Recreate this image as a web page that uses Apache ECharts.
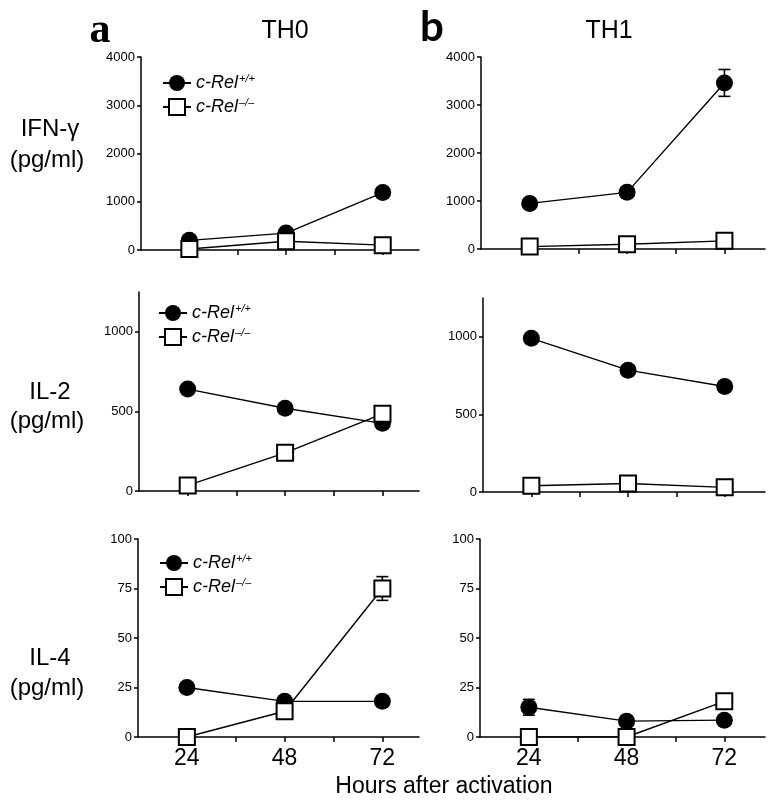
<!DOCTYPE html>
<html>
<head>
<meta charset="utf-8">
<script src="https://cdn.jsdelivr.net/npm/echarts@6/dist/echarts.min.js"></script>
<style>html,body{margin:0;padding:0;background:#fff}#c{width:784px;height:811px}</style>
</head>
<body>
<div id="c"></div>
<script>
// ---- data ----
const hours = [24, 48, 72];
const xTicks = [24, 36, 48, 60, 72];
const xTickLabels = [24, 48, 72];
const ifnTicks = [0, 1000, 2000, 3000, 4000];
const il2Ticks = [0, 500, 1000];
const il4Ticks = [0, 25, 50, 75, 100];

const th0IfnWt = [200, 350, 1190];
const th0IfnKo = [20, 180, 100];
const th1IfnWt = [950, 1180, 3460];
const th1IfnWtErr = [0, 0, 280];
const th1IfnKo = [50, 100, 170];

const th0Il2Wt = [640, 520, 425];
const th0Il2Ko = [35, 240, 485];
const th1Il2Wt = [990, 785, 680];
const th1Il2Ko = [40, 55, 30];

const th0Il4Wt = [25, 18, 18];
const th0Il4Ko = [0, 13, 75];
const th0Il4KoErr = [0, 0, 6];
const th1Il4Wt = [15, 8, 8.5];
const th1Il4WtErr = [4, 0, 0];
const th1Il4Ko = [0, 0, 18];

const WT = 'c-Rel+/+';
const KO = 'c-Rel\u2013/\u2013';

// ---- layout ----
const FONT = 'Liberation Sans, Arial, Helvetica, sans-serif';
const grids = [
  {left: 141, top: 57, width: 278, height: 193},
  {left: 481, top: 57, width: 284, height: 192},
  {left: 139, top: 292, width: 280, height: 199},
  {left: 483, top: 298, width: 282, height: 194},
  {left: 138, top: 539, width: 281, height: 198},
  {left: 480, top: 539, width: 285, height: 198}
];
const xMax = [81, 82, 81, 82, 81, 82];
const yCfg = [
  {max: 4000, ticks: ifnTicks},
  {max: 4000, ticks: ifnTicks},
  {max: 1250, ticks: il2Ticks},
  {max: 1250, ticks: il2Ticks},
  {max: 100, ticks: il4Ticks},
  {max: 100, ticks: il4Ticks}
];

const xAxis = grids.map((g, i) => ({
  type: 'value', gridIndex: i, min: 12, max: xMax[i],
  axisLine: {show: true, lineStyle: {color: '#000', width: 1.5}},
  axisTick: {show: true, customValues: xTicks, length: 5, lineStyle: {color: '#000', width: 1.5}},
  axisLabel: {show: i >= 4, customValues: xTickLabels, fontSize: 23, color: '#000', fontFamily: FONT, margin: 10,
    formatter: v => String(v)},
  splitLine: {show: false}
}));
const yAxis = grids.map((g, i) => ({
  type: 'value', gridIndex: i, min: 0, max: yCfg[i].max,
  axisLine: {show: true, lineStyle: {color: '#000', width: 1.5}},
  axisTick: {show: true, customValues: yCfg[i].ticks, length: 4, lineStyle: {color: '#000', width: 1.5}},
  axisLabel: {show: true, customValues: yCfg[i].ticks, fontSize: 13, color: '#000', fontFamily: FONT, margin: 6,
    formatter: v => String(v)},
  splitLine: {show: false}
}));

function pts(vals) { return hours.map((h, k) => [h, vals[k]]); }
function wtSeries(i, vals) {
  return {type: 'line', name: WT, xAxisIndex: i, yAxisIndex: i, data: pts(vals),
    symbol: 'circle', symbolSize: 17, z: 3,
    lineStyle: {color: '#000', width: 1.4}, itemStyle: {color: '#000', borderColor: '#000', borderWidth: 0},
    emphasis: {disabled: true}, animation: false};
}
function koSeries(i, vals) {
  return {type: 'line', name: KO, xAxisIndex: i, yAxisIndex: i, data: pts(vals),
    symbol: 'rect', symbolSize: 16, z: 4,
    lineStyle: {color: '#000', width: 1.4}, itemStyle: {color: '#fff', borderColor: '#000', borderWidth: 2},
    emphasis: {disabled: true}, animation: false};
}
function errSeries(i, vals, errs) {
  return {type: 'custom', xAxisIndex: i, yAxisIndex: i, z: 2, animation: false, silent: true,
    data: hours.map((h, k) => [h, vals[k], errs[k]]),
    encode: {x: 0, y: 1},
    renderItem: function (params, api) {
      const e = api.value(2);
      if (!e) return {type: 'group', children: []};
      const x = api.value(0), y = api.value(1);
      const hi = api.coord([x, y + e]);
      const lo = api.coord([x, y - e]);
      const w = 6;
      const st = {stroke: '#000', lineWidth: 1.6};
      return {type: 'group', children: [
        {type: 'line', shape: {x1: hi[0], y1: hi[1], x2: lo[0], y2: lo[1]}, style: st},
        {type: 'line', shape: {x1: hi[0] - w, y1: hi[1], x2: hi[0] + w, y2: hi[1]}, style: st},
        {type: 'line', shape: {x1: lo[0] - w, y1: lo[1], x2: lo[0] + w, y2: lo[1]}, style: st}
      ]};
    }};
}

const series = [
  errSeries(1, th1IfnWt, th1IfnWtErr),
  errSeries(4, th0Il4Ko, th0Il4KoErr),
  errSeries(5, th1Il4Wt, th1Il4WtErr),
  wtSeries(0, th0IfnWt), koSeries(0, th0IfnKo),
  wtSeries(1, th1IfnWt), koSeries(1, th1IfnKo),
  wtSeries(2, th0Il2Wt), koSeries(2, th0Il2Ko),
  wtSeries(3, th1Il2Wt), koSeries(3, th1Il2Ko),
  wtSeries(4, th0Il4Wt), koSeries(4, th0Il4Ko),
  wtSeries(5, th1Il4Wt), koSeries(5, th1Il4Ko)
];

function legendAt(left, top) {
  return {
    data: [WT, KO], orient: 'vertical', left: left, top: top,
    itemWidth: 28, itemHeight: 20, itemGap: 5, selectedMode: false, padding: 0,
    formatter: function (name) { return '{a|c-Rel}{b|' + name.slice(5) + '}'; },
    textStyle: {color: '#000', fontFamily: FONT,
      rich: {
        a: {fontStyle: 'italic', fontSize: 18, fontFamily: FONT, color: '#000', lineHeight: 20, verticalAlign: 'middle'},
        b: {fontStyle: 'italic', fontSize: 11, fontFamily: FONT, color: '#000', lineHeight: 20, verticalAlign: 'top', padding: [0, 0, 0, 1]}
      }}
  };
}

function txt(x, y, s, size, opts) {
  return Object.assign({type: 'text', x: x, y: y,
    style: Object.assign({text: s, fontSize: size, fontFamily: FONT, fill: '#000', align: 'center', verticalAlign: 'middle'}, opts || {})});
}

const graphic = [
  txt(100, 31, 'a', 42, {fontFamily: 'Liberation Serif, Times New Roman, serif', fontWeight: 'bold'}),
  txt(432, 27, 'b', 42, {fontFamily: 'Lato, Open Sans, sans-serif', fontWeight: 'bold'}),
  txt(285, 31, 'TH0', 25),
  txt(609, 31, 'TH1', 25),
  txt(50, 129, 'IFN-\u03b3', 24),
  txt(47, 160, '(pg/ml)', 24),
  txt(50, 392, 'IL-2', 24),
  txt(47, 421, '(pg/ml)', 24),
  txt(50, 658, 'IL-4', 24),
  txt(47, 688, '(pg/ml)', 24),
  txt(444, 787, 'Hours after activation', 23)
];

const chart = echarts.init(document.getElementById('c'), null, {renderer: 'canvas'});
chart.setOption({
  backgroundColor: '#fff',
  animation: false,
  grid: grids,
  xAxis: xAxis,
  yAxis: yAxis,
  legend: [legendAt(162, 73), legendAt(158, 303), legendAt(159, 553)],
  series: series,
  graphic: graphic
});
</script>
</body>
</html>
